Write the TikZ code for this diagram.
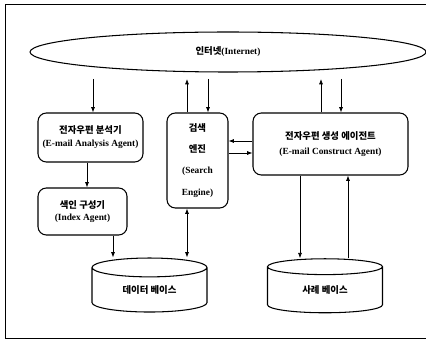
\documentclass[tikz,border=0pt]{standalone}
\usepackage{fontspec}
\setmainfont{Liberation Serif}
\newfontfamily\krfont{Noto Sans CJK KR}
\newcommand{\kr}[1]{{\krfont #1}}
\usetikzlibrary{shapes.geometric, arrows.meta, positioning, calc}
\tikzset{
	net/.style={ellipse, draw, line width=0.9pt, inner sep=0pt, minimum width=118.8mm, minimum height=12mm, font=\fontsize{8}{9}\selectfont\bfseries},
	agent/.style={rectangle, rounded corners=2.5mm, draw, line width=0.9pt, inner sep=0pt, align=center, font=\fontsize{8}{11}\selectfont\bfseries},
	base/.style={cylinder, shape border rotate=90, aspect=0.35, draw, line width=0.9pt, inner sep=0pt, minimum width=34.5mm, minimum height=16.2mm, font=\fontsize{8}{9}\selectfont\bfseries},
	arrow/.style={line width=0.6pt, -{Latex[length=1.6mm, width=1.2mm]}},
	twoway/.style={line width=0.6pt, {Latex[length=1.6mm, width=1.2mm]}-{Latex[length=1.6mm, width=1.2mm]}}
}
\begin{document}
\begin{tikzpicture}[x=0.3mm, y=-0.3mm]
	\useasboundingbox (0,0) rectangle (426,341);
	% Rahmen
	\draw[line width=0.8pt] (426,4) -- (5,4) -- (5,338) -- (426,338);

	% Internet
	\node[net] (internet) at (228,52) {\kr{인터넷}(Internet)};
	\coordinate (netlow) at (228,79);

	% Agenten
	\node[agent, minimum width=31.5mm, minimum height=14.7mm] (analysis) at (90.5,137.5) {\kr{전자우편 분석기}\\(E-mail Analysis Agent)};
	\node[agent, minimum width=26.7mm, minimum height=14.1mm, font=\fontsize{8}{10}\selectfont\bfseries] (index) at (82.5,211.5) {\kr{색인 구성기}\\(Index Agent)};
	\node[agent, minimum width=18.3mm, minimum height=28.5mm, font=\fontsize{8}{18}\selectfont\bfseries] (search) at (197.5,160.5) {\kr{검색}\\\kr{엔진}\\(Search\\Engine)};
	\node[agent, minimum width=46.5mm, minimum height=18.6mm, font=\fontsize{8}{12.8}\selectfont\bfseries] (construct) at (330.5,144) {\kr{전자우편 생성 에이전트}\\(E-mail Construct Agent)};

	% Datenbanken
	\node[base] (database) at (149.5,290) {\kr{데이터 베이스}};
	\node[base] (casebase) at (325,290) {\kr{사례 베이스}};

	% Pfeile
	\draw[arrow] ([xshift=0.75mm]analysis.north |- netlow) -- ([xshift=0.75mm]analysis.north);
	\draw[arrow] ([xshift=-3.15mm]search.north) -- ([xshift=-3.15mm]search.north |- netlow);
	\draw[arrow] ([xshift=3.15mm]search.north |- netlow) -- ([xshift=3.15mm]search.north);
	\draw[arrow] ([xshift=-2.85mm]construct.north) -- ([xshift=-2.85mm]construct.north |- netlow);
	\draw[arrow] ([xshift=3.15mm]construct.north |- netlow) -- ([xshift=3.15mm]construct.north);

	\draw[arrow] ([xshift=-1.05mm]analysis.south) -- ([xshift=-1.05mm]analysis.south |- index.north);
	\draw[arrow] ([xshift=9.15mm]index.south) -- ([xshift=9.15mm]index.south |- database.north);
	\draw[twoway] ([xshift=-3.15mm]search.south) -- ([xshift=-3.15mm]search.south |- database.north);

	\draw[arrow] ([yshift=0.9mm]construct.west) -- ([yshift=0.9mm]construct.west -| search.east);
	\draw[arrow] ([yshift=-2.7mm]construct.west -| search.east) -- ([yshift=-2.7mm]construct.west);

	\draw[arrow] ([xshift=-9.15mm]construct.south) -- ([xshift=-9.15mm]construct.south |- casebase.north);
	\draw[arrow] ([xshift=5.25mm]construct.south |- casebase.north) -- ([xshift=5.25mm]construct.south);
\end{tikzpicture}
\end{document}
